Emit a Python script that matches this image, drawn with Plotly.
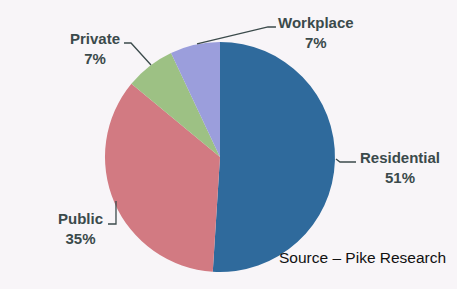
import plotly.graph_objects as go

categories = ["Residential", "Public", "Private", "Workplace"]
shares = [51, 35, 7, 7]
colors = ["#2f6a9c", "#d27a82", "#9dc184", "#9b9edc"]

W, H = 457, 289

def px(x, y):
    return x / W, 1 - y / H

fig = go.Figure(go.Pie(
    labels=categories, values=shares, sort=False, direction="clockwise",
    rotation=0, textinfo="none", hoverinfo="label+percent",
    marker=dict(colors=colors, line=dict(width=0)),
    domain=dict(x=[105 / W, 335 / W], y=[1 - 272 / H, 1 - 42 / H]),
    showlegend=False,
))

label_pos = {"Residential": (400, 167), "Public": (80, 228), "Private": (95, 48), "Workplace": (316, 32)}
font = dict(family="Arial, Liberation Sans, sans-serif", size=15, color="#3b4a4b")
for cat, val in zip(categories, shares):
    x, y = px(*label_pos[cat])
    fig.add_annotation(x=x, y=y, xref="paper", yref="paper", showarrow=False,
                       xanchor="center", yanchor="middle",
                       text=f"<b>{cat}<br>{val}%</b>", font=font, align="center")

def path(pts):
    s = ""
    for i, (x, y) in enumerate(pts):
        a, b = px(x, y)
        s += ("M" if i == 0 else " L") + f" {a:.4f} {b:.4f}"
    return s

leaders = [
    [(197, 44), (268, 27), (276, 27)],
    [(124, 43), (131, 43), (151, 65)],
    [(336, 159), (340, 162), (356, 162)],
    [(108, 224), (116, 224), (116, 201)],
]
for pts in leaders:
    fig.add_shape(type="path", path=path(pts), xref="paper", yref="paper",
                  line=dict(color="#3b4a4b", width=1.3))

sx, sy = px(448, 257)
fig.add_annotation(x=sx, y=sy, xref="paper", yref="paper", showarrow=False,
                   xanchor="right", yanchor="middle", text="Source – Pike Research",
                   font=dict(family="Arial, Liberation Sans, sans-serif", size=15.5, color="#111111"))

fig.update_layout(width=W, height=H, margin=dict(l=0, r=0, t=0, b=0),
                  paper_bgcolor="#f8f5f8", plot_bgcolor="#f8f5f8")
fig.write_html("out.html", config={"displayModeBar": False},
               post_script="document.body.style.margin='0';document.body.style.overflow='hidden';")
